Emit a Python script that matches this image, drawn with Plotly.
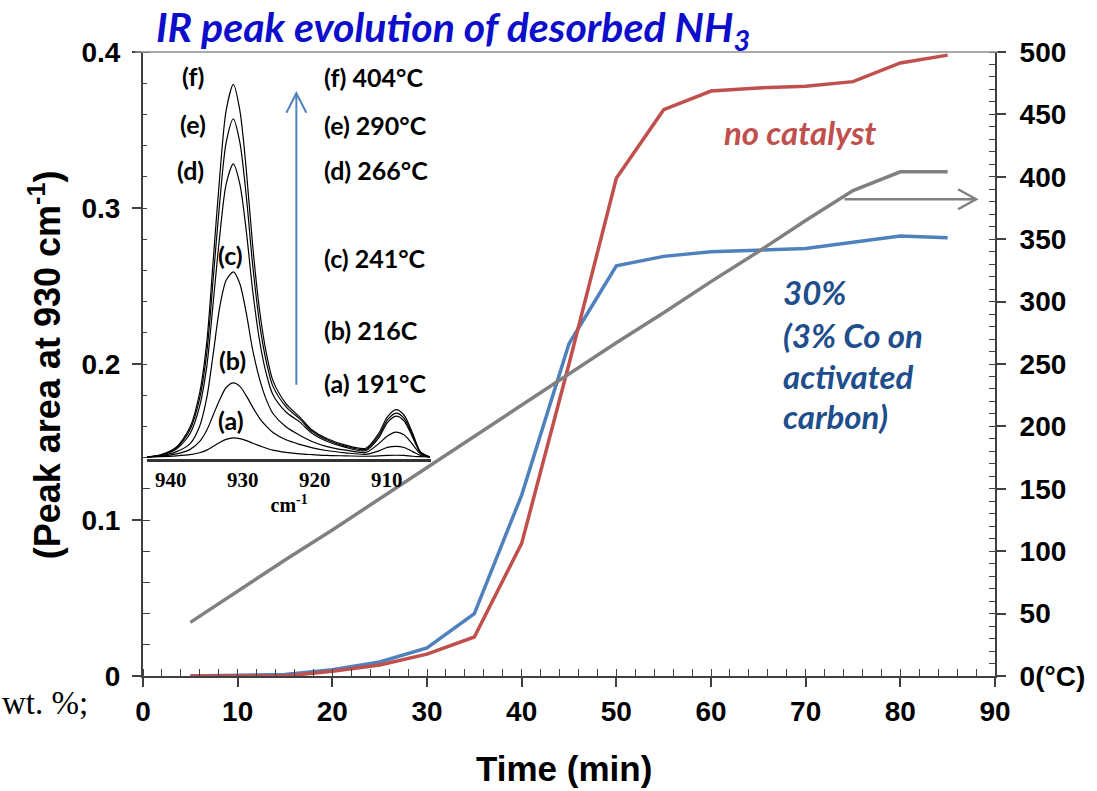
import plotly.graph_objects as go

# ---- main series: desorbed NH3 peak area and temperature vs. time ----
time_min = [5, 10, 15, 20, 25, 30, 35, 40, 45, 50, 55, 60, 65, 70, 75, 80, 85]
no_catalyst = [0.0, 0.0, 0.0, 0.003, 0.007, 0.014, 0.025, 0.085, 0.200, 0.319,
               0.363, 0.375, 0.377, 0.378, 0.381, 0.393, 0.398]
co_on_carbon = [0.0, 0.0005, 0.001, 0.004, 0.009, 0.018, 0.040, 0.116, 0.213, 0.263,
                0.269, 0.272, 0.273, 0.274, 0.278, 0.282, 0.281]
temperature_c = [43, 68, 93, 117, 142, 167, 192, 217, 242, 267,
                 291, 316, 340, 365, 389, 404, 404]

# ---- inset: IR spectra around 930 cm-1 at increasing temperature ----
wavenumber = [943.5, 941.5, 939.2, 937.3, 936.0, 935.0, 934.1, 933.2, 932.3, 931.3,
              930.4, 929.5, 928.6, 927.6, 926.7, 925.8, 924.0, 922.1, 920.3, 918.4,
              915.7, 912.9, 911.1, 909.9, 908.7, 907.6, 906.4, 905.3, 904.0]
spec_a = [0.0, 0.001, 0.003, 0.006, 0.011, 0.018, 0.028, 0.038, 0.046, 0.050,
          0.048, 0.043, 0.036, 0.029, 0.023, 0.018, 0.012, 0.008, 0.006, 0.004,
          0.003, 0.002, 0.003, 0.004, 0.0045, 0.004, 0.002, 0.001, 0.0]
spec_b = [0.0, 0.002, 0.008, 0.020, 0.040, 0.070, 0.110, 0.150, 0.182, 0.194,
          0.185, 0.160, 0.130, 0.100, 0.080, 0.064, 0.045, 0.033, 0.024, 0.017,
          0.011, 0.007, 0.016, 0.025, 0.028, 0.025, 0.014, 0.004, 0.0]
spec_c = [0.0, 0.003, 0.014, 0.035, 0.080, 0.155, 0.270, 0.392, 0.463, 0.485,
          0.454, 0.376, 0.279, 0.200, 0.149, 0.114, 0.079, 0.057, 0.040, 0.028,
          0.018, 0.012, 0.035, 0.055, 0.065, 0.058, 0.033, 0.008, 0.0]
spec_d = [0.0, 0.004, 0.021, 0.062, 0.132, 0.236, 0.405, 0.578, 0.715, 0.768,
          0.715, 0.591, 0.433, 0.298, 0.216, 0.163, 0.118, 0.092, 0.061, 0.042,
          0.025, 0.017, 0.050, 0.090, 0.107, 0.095, 0.052, 0.011, 0.0]
spec_e = [0.0, 0.005, 0.024, 0.072, 0.152, 0.272, 0.467, 0.666, 0.824, 0.886,
          0.824, 0.682, 0.500, 0.342, 0.247, 0.185, 0.132, 0.100, 0.066, 0.046,
          0.028, 0.020, 0.056, 0.097, 0.115, 0.102, 0.057, 0.012, 0.0]
spec_f = [0.0, 0.005, 0.026, 0.079, 0.167, 0.300, 0.515, 0.734, 0.908, 0.976,
          0.908, 0.751, 0.550, 0.376, 0.270, 0.200, 0.140, 0.105, 0.070, 0.049,
          0.031, 0.023, 0.062, 0.105, 0.124, 0.110, 0.062, 0.013, 0.0]
spectra = [spec_a, spec_b, spec_c, spec_d, spec_e, spec_f]
inset_ticks = [940, 930, 920, 910]
curve_tags = ["(f)", "(e)", "(d)", "(c)", "(b)", "(a)"]
curve_temps = ["(f) 404°C", "(e) 290°C", "(d) 266°C", "(c) 241°C", "(b) 216C", "(a) 191°C"]

left_ticks = [0, 0.1, 0.2, 0.3, 0.4]
right_ticks = [0, 50, 100, 150, 200, 250, 300, 350, 400, 450, 500]
right_ticktext = ["0(°C)"] + [str(v) for v in right_ticks[1:]]

# ---- page geometry ----
W, H = 1097, 791
ML, MR, MT, MB = 143, 100, 52, 115
PW, PH = W - ML - MR, H - MT - MB


def fx(px):
    return (px - ML) / PW


def fy(py):
    return (H - MB - py) / PH


RED = "#c0504d"
BLUE = "#4f81bd"
GRAY = "#808080"
AXIS = "#404040"
SANS = "Liberation Sans"
CAL = "Lato"

fig = go.Figure()

fig.add_trace(go.Scatter(x=time_min, y=temperature_c, yaxis="y2", mode="lines",
                         line=dict(color=GRAY, width=3.5), showlegend=False))
fig.add_trace(go.Scatter(x=time_min, y=co_on_carbon, mode="lines",
                         line=dict(color=BLUE, width=3.5), showlegend=False))
fig.add_trace(go.Scatter(x=time_min, y=no_catalyst, mode="lines",
                         line=dict(color=RED, width=3.5), showlegend=False))

for spec in spectra:
    fig.add_trace(go.Scatter(x=wavenumber, y=spec, xaxis="x2", yaxis="y3", mode="lines",
                             line=dict(color="black", width=1.2, shape="spline", smoothing=0.8),
                             showlegend=False, cliponaxis=False))

tickfont = dict(family=SANS, size=28, color="black", weight="bold")

fig.update_layout(
    width=W, height=H,
    margin=dict(l=ML, r=MR, t=MT, b=MB),
    paper_bgcolor="white", plot_bgcolor="white",
    xaxis=dict(domain=[0, 1], range=[0, 90], tickmode="linear", tick0=0, dtick=10,
               ticks="outside", ticklen=9, tickwidth=1.5, tickcolor=AXIS,
               showline=True, linecolor=AXIS, linewidth=2, showgrid=False, zeroline=False,
               tickfont=tickfont,
               minor=dict(ticks="inside", dtick=2, tick0=0, ticklen=7, tickwidth=1.2,
                          tickcolor=AXIS, showgrid=False)),
    yaxis=dict(range=[0, 0.4], tickmode="array", tickvals=left_ticks,
               ticktext=[f"{v:g}" for v in left_ticks],
               ticks="outside", ticklen=9, tickwidth=1.5, tickcolor=AXIS,
               showline=True, linecolor=AXIS, linewidth=2, showgrid=False, zeroline=False,
               tickfont=tickfont, ticklabelstandoff=6,
               minor=dict(tickmode="linear", ticks="inside", dtick=0.02, tick0=0, ticklen=7,
                          tickwidth=1.2, tickcolor=AXIS, showgrid=False)),
    yaxis2=dict(overlaying="y", side="right", anchor="x", range=[0, 500],
                tickmode="array", tickvals=right_ticks, ticktext=right_ticktext,
                ticks="outside", ticklen=9, tickwidth=1.5, tickcolor=AXIS,
                showline=True, linecolor=AXIS, linewidth=2, showgrid=False, zeroline=False,
                tickfont=tickfont, ticklabelstandoff=8,
                minor=dict(tickmode="linear", ticks="inside", dtick=10, tick0=0, ticklen=6,
                           tickwidth=1.2, tickcolor=AXIS, showgrid=False)),
    xaxis2=dict(domain=[fx(147), fx(432)], anchor="y3", range=[943.3, 903.8],
                tickmode="array", tickvals=inset_ticks, ticks="",
                showline=True, linecolor="#333333", linewidth=2.5,
                showgrid=False, zeroline=False,
                tickfont=dict(family="Liberation Serif", size=21, color="black", weight="bold"),
                title=dict(text="cm<sup>-1</sup>", standoff=2,
                           font=dict(family="Liberation Serif", size=20, color="black",
                                     weight="bold"))),
    yaxis3=dict(domain=[fy(458.9), fy(75.3)], anchor="x2", range=[-0.005, 1.0],
                visible=False),
)

shapes = [
    # top frame line of the plot area
    dict(type="line", xref="paper", yref="paper", x0=fx(135), x1=fx(1000), y0=1, y1=1,
         line=dict(color="#8c8c8c", width=1.5)),
    # blue arrow across the spectra (rising temperature)
    dict(type="line", xref="x2", yref="y3", x0=922.55, x1=922.55, y0=0.189, y1=0.953,
         line=dict(color=BLUE, width=2)),
    dict(type="path", xref="x2", yref="y3", path="M 923.93,0.902 L 922.55,0.953 L 921.16,0.902",
         line=dict(color=BLUE, width=2)),
    # gray arrow pointing to the temperature axis
    dict(type="line", xref="x", yref="y2", x0=74.1, x1=88.0, y0=382, y1=382,
         line=dict(color=GRAY, width=2.5)),
    dict(type="path", xref="x", yref="y2", path="M 86.1,390 L 88.0,382 L 86.1,374",
         line=dict(color=GRAY, width=2.5)),
]
fig.update_layout(shapes=shapes)

ann = []
# chart title
ann.append(dict(xref="paper", yref="paper", x=fx(454), y=fy(0), xanchor="center",
                yanchor="top", showarrow=False,
                text="<b><i>IR peak evolution of desorbed NH<sub>3</sub></i></b>",
                font=dict(family=CAL, size=41, color="#0d0dcc")))
# axis titles
ann.append(dict(xref="paper", yref="paper", x=fx(45), y=fy(365), xanchor="center",
                yanchor="middle", showarrow=False, textangle=-90,
                text="<b>(Peak area at 930 cm<sup>-1</sup>)</b>",
                font=dict(family=SANS, size=36, color="black")))
ann.append(dict(xref="paper", yref="paper", x=fx(565), y=fy(768), xanchor="center",
                yanchor="middle", showarrow=False, text="<b>Time (min)</b>",
                font=dict(family=SANS, size=35, color="black")))
ann.append(dict(xref="paper", yref="paper", x=fx(0), y=fy(703), xanchor="left",
                yanchor="middle", showarrow=False, text="wt. %;",
                font=dict(family="Liberation Serif", size=33, color="black")))
# series labels
ann.append(dict(xref="paper", yref="paper", x=fx(802), y=fy(132), xanchor="center",
                yanchor="middle", showarrow=False, text="<b><i>no catalyst</i></b>",
                font=dict(family=CAL, size=33, color=RED)))
for line_text, py in zip(["30%", "(3% Co on", "activated", "carbon)"], [292, 335, 376, 416]):
    ann.append(dict(xref="paper", yref="paper", x=fx(782), y=fy(py), xanchor="left",
                    yanchor="middle", showarrow=False, text=f"<b><i>{line_text}</i></b>",
                    font=dict(family=CAL, size=33, color="#1f4e8c")))
# inset curve tags and temperatures
for tag, (px, py) in zip(curve_tags, [(193, 76), (193, 124), (191, 170), (231, 255), (233, 360), (231, 420)]):
    ann.append(dict(xref="paper", yref="paper", x=fx(px), y=fy(py), xanchor="center",
                    yanchor="middle", showarrow=False, text=f"<b>{tag}</b>",
                    font=dict(family=CAL, size=25, color="black")))
for lab, py in zip(curve_temps, [77, 125, 170, 258, 330, 383]):
    ann.append(dict(xref="paper", yref="paper", x=fx(322), y=fy(py), xanchor="left",
                    yanchor="middle", showarrow=False, text=f"<b>{lab}</b>",
                    font=dict(family=CAL, size=25, color="black")))
fig.update_layout(annotations=ann)

fig.write_html("out.html")
